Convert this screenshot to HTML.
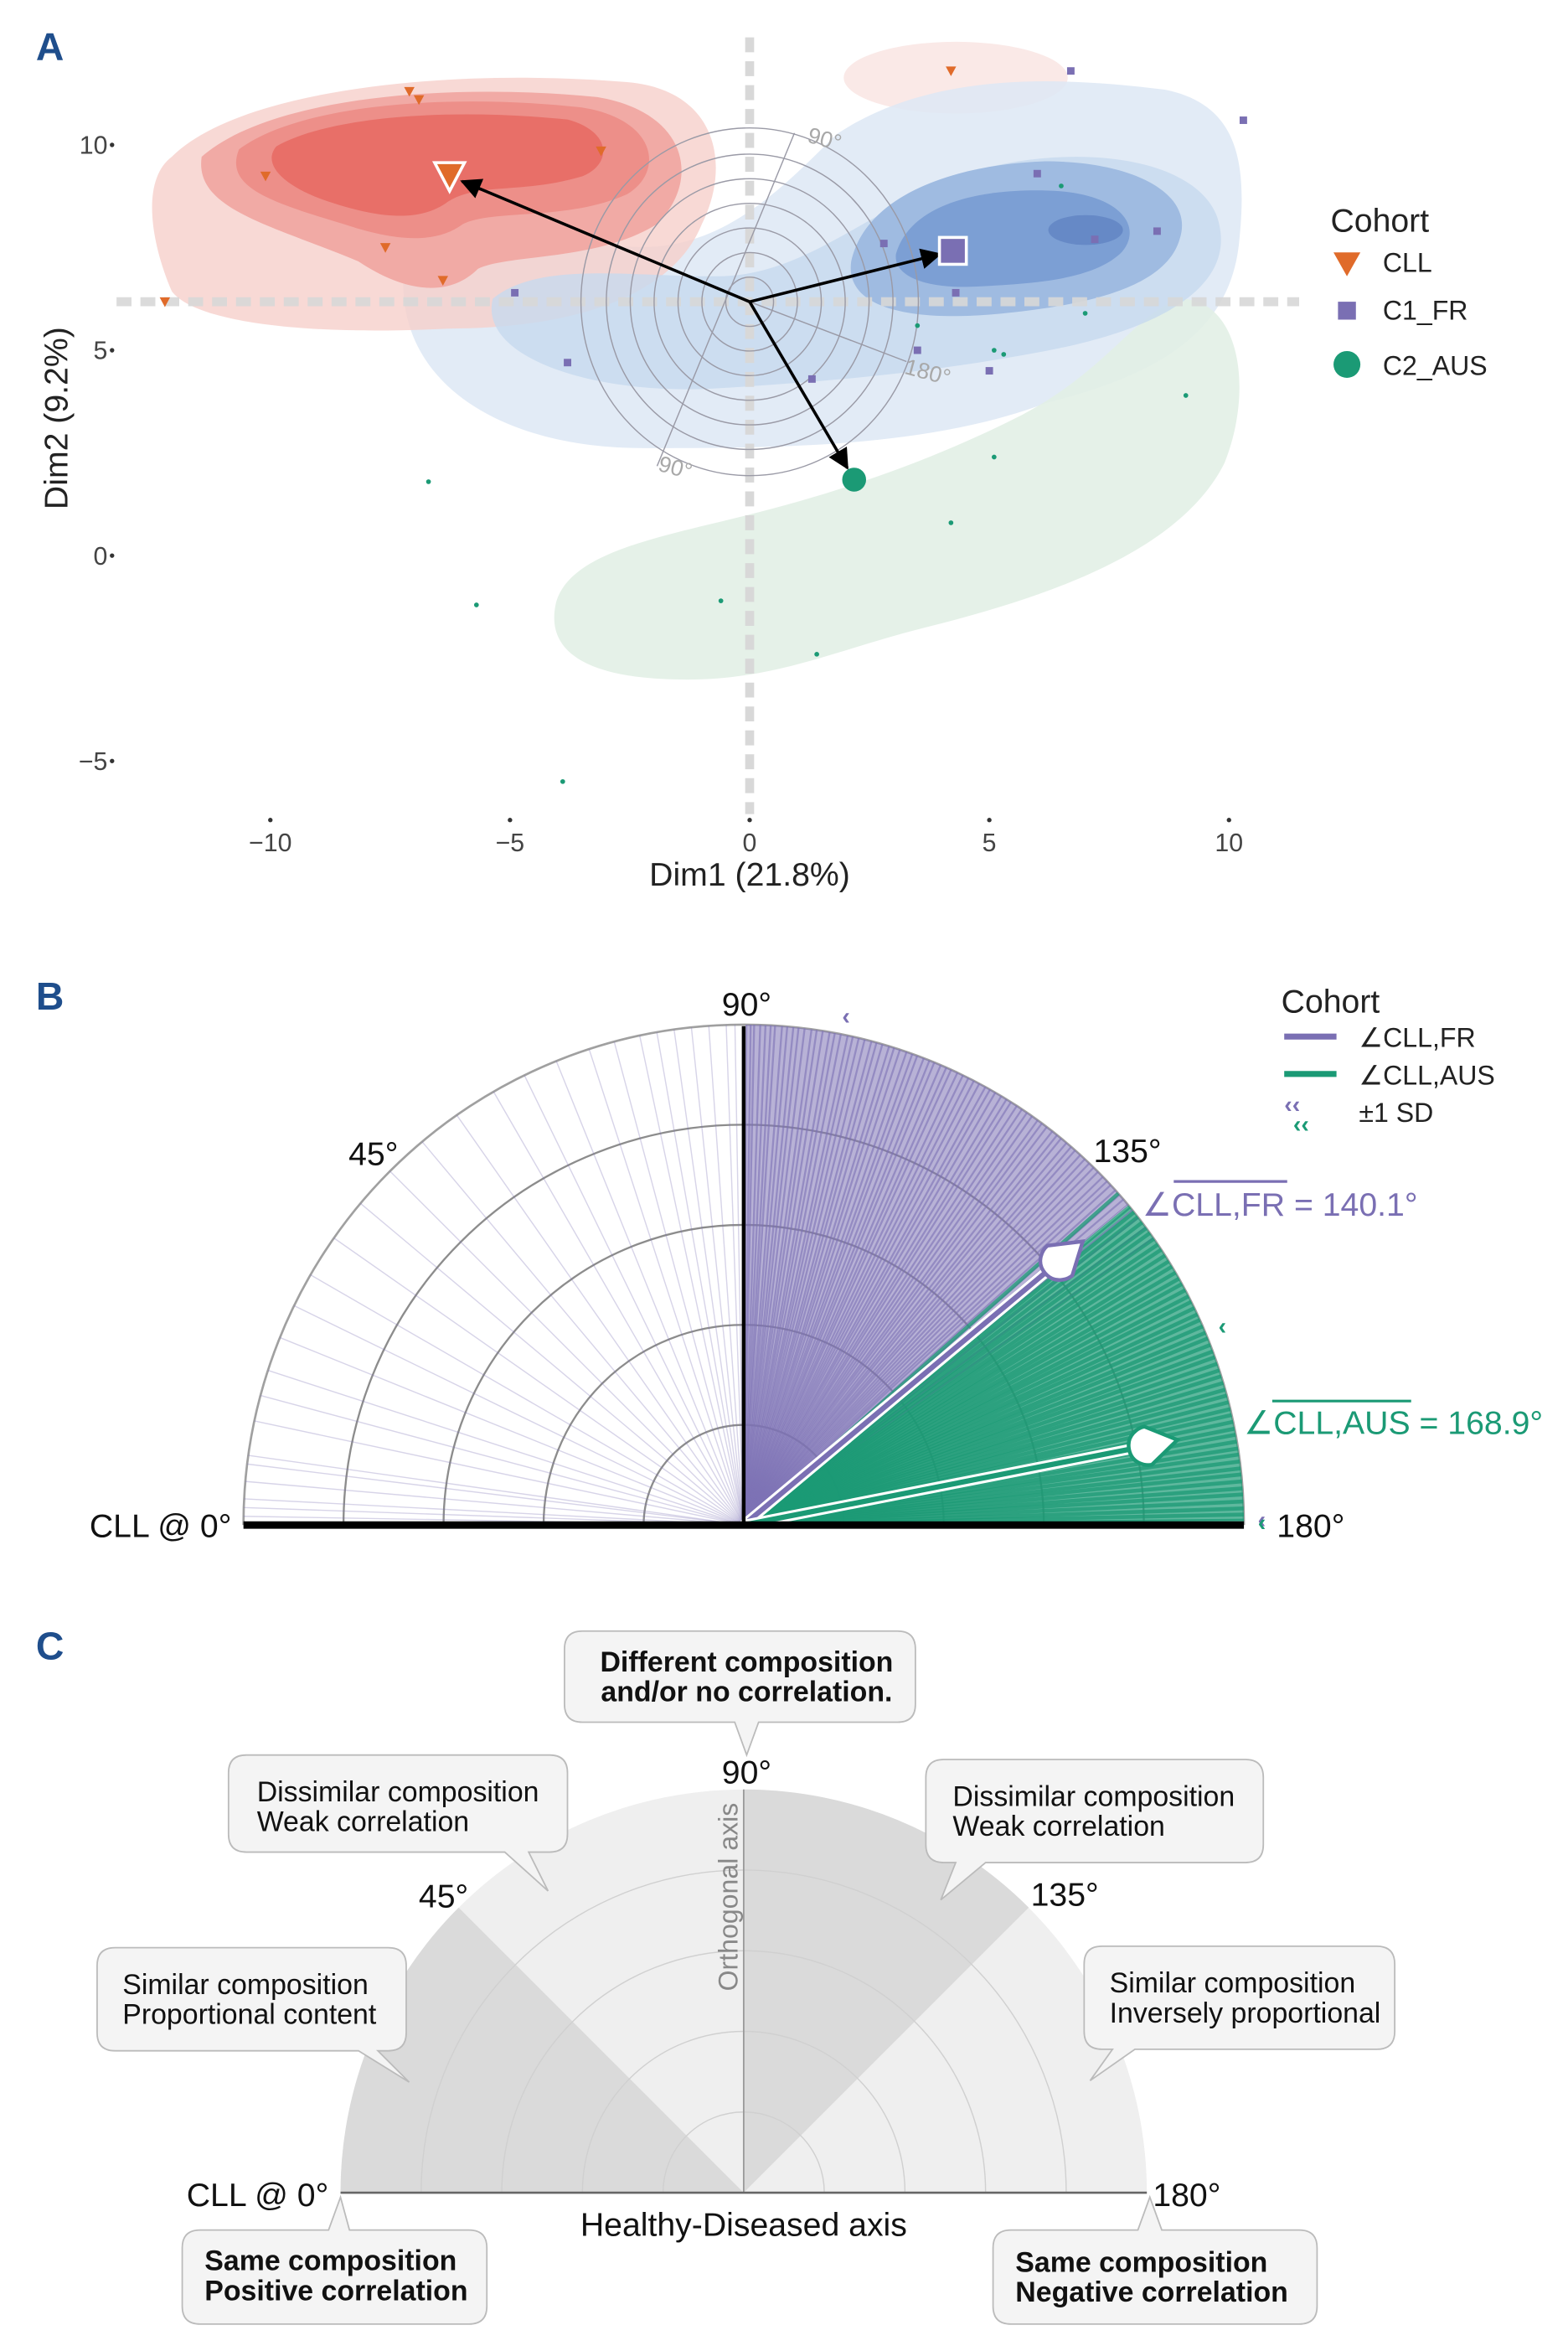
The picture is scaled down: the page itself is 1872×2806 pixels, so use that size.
<!DOCTYPE html>
<html><head><meta charset="utf-8"><style>
html,body{margin:0;padding:0;background:#fff}
svg{display:block;font-family:"Liberation Sans",sans-serif}
</style></head><body>
<svg id="fig" width="1872" height="2806" viewBox="0 0 1050 1574" xmlns="http://www.w3.org/2000/svg">
<!-- PANEL A -->
<g id="panelA">
<text x="24" y="40" font-size="26" font-weight="bold" fill="#1f4e8c">A</text>
<g>
<ellipse cx="640" cy="52" rx="75" ry="24" fill="#f9e4e1" opacity="0.8"/>
<path d="M270,190 C290,160 360,160 420,165 C480,170 520,130 560,90 C620,50 700,50 780,60 C830,70 835,110 830,160 C825,220 780,250 700,270 C620,300 520,300 430,300 C340,300 270,260 270,190Z" fill="#dde8f5" opacity="0.85"/>
<path d="M372,405 C380,370 440,360 500,345 C560,330 620,310 680,280 C740,250 760,210 790,200 C830,200 840,260 820,310 C790,370 700,400 620,420 C560,435 520,455 460,455 C400,455 365,440 372,405Z" fill="#e2f0e5" opacity="0.9"/>
<path d="M115,105 C160,60 300,45 420,55 C480,60 490,110 470,150 C450,200 380,220 300,220 C200,225 130,215 115,195 C100,160 95,120 115,105Z" fill="#f6cfcb" opacity="0.8"/>
<path d="M330,200 C360,175 420,185 480,185 C540,185 580,140 650,115 C720,95 800,105 815,145 C830,190 780,220 700,235 C620,250 560,255 480,260 C400,265 320,240 330,200Z" fill="#c7d9ef" opacity="0.8"/>
<path d="M135,105 C180,65 300,55 400,65 C460,75 470,120 440,150 C400,175 340,170 320,180 C300,200 270,195 240,175 C180,150 130,140 135,105Z" fill="#f1aaa5"/>
<path d="M160,100 C200,70 300,62 390,72 C440,80 445,115 420,130 C380,148 330,140 310,150 C290,165 260,160 230,150 C180,135 150,125 160,100Z" fill="#ed8f89"/>
<path d="M185,98 C220,78 300,72 380,80 C410,88 410,110 390,118 C350,130 320,122 300,135 C280,150 250,145 220,135 C190,125 175,110 185,98Z" fill="#e86f68"/>
<path d="M570,175 C580,130 640,110 700,108 C760,108 800,130 790,160 C780,195 720,205 670,210 C620,215 565,210 570,175Z" fill="#9fbbe1"/>
<path d="M600,170 C610,135 660,125 710,128 C755,132 765,155 750,170 C730,188 690,190 650,192 C620,193 598,185 600,170Z" fill="#7c9fd4"/>
<ellipse cx="727" cy="154" rx="25" ry="10" fill="#6689c6"/>
</g>
<g>
<line x1="502" y1="25" x2="502" y2="545" stroke="#d8d8d8" stroke-width="6" stroke-dasharray="10,6"/>
<line x1="78" y1="202" x2="870" y2="202" stroke="#d8d8d8" stroke-width="6" stroke-dasharray="10,6" opacity="0.9"/>
</g>
<g id="polarGridA" fill="none" stroke="#9a9aa6" stroke-width="0.8"></g>
<text x="540" y="95" font-size="15" fill="#a8a8a8" transform="rotate(15 540 95)">90°</text>
<text x="605" y="250" font-size="15" fill="#a8a8a8" transform="rotate(15 605 250)">180°</text>
<text x="440" y="315" font-size="15" fill="#a8a8a8" transform="rotate(15 440 315)">90°</text>
<g id="pointsA"></g>
<g id="centroidsA"></g>
<g font-size="17" fill="#444" text-anchor="middle">
<g id="xticksA"></g>
<text x="502" y="593" font-size="22" fill="#222">Dim1 (21.8%)</text>
</g>
<g font-size="17" fill="#444" text-anchor="end">
<g id="yticksA"></g>
<text x="0" y="0" font-size="22" fill="#222" text-anchor="middle" transform="translate(45 280) rotate(-90)">Dim2 (9.2%)</text>
</g>
<g font-size="18" fill="#222">
<text x="891" y="155" font-size="22">Cohort</text>
<path d="M893,169 L911,169 L902,185Z" fill="#e06b2a"/>
<text x="926" y="182">CLL</text>
<rect x="896" y="202" width="12" height="12" fill="#7a6fb3"/>
<text x="926" y="214">C1_FR</text>
<circle cx="902" cy="244" r="9" fill="#1b9a75"/>
<text x="926" y="251">C2_AUS</text>
</g>
</g>

<!-- PANEL B -->
<g id="panelB">
<text x="24" y="676" font-size="26" font-weight="bold" fill="#1f4e8c">B</text>
<g id="ringsB" fill="none"></g>
<g id="raysB"></g>
<g id="meansB"></g>
<line x1="498" y1="687" x2="498" y2="1021" stroke="#000" stroke-width="2.5"/>
<line x1="163" y1="1021" x2="833" y2="1021" stroke="#000" stroke-width="5"/>
<g font-size="22" fill="#111">
<text x="500" y="680" text-anchor="middle">90°</text>
<text x="250" y="780" text-anchor="middle">45°</text>
<text x="755" y="778" text-anchor="middle">135°</text>
<text x="155" y="1029" text-anchor="end">CLL @ 0°</text>
<text x="855" y="1029">180°</text>
</g>
<g font-size="22">
<text x="765" y="814" fill="#7a6fb3">∠CLL,FR = 140.1°</text>
<line x1="786" y1="791" x2="862" y2="791" stroke="#7a6fb3" stroke-width="1.8"/>
<text x="833" y="960" fill="#1b9a75">∠CLL,AUS = 168.9°</text>
<line x1="852" y1="938" x2="945" y2="938" stroke="#1b9a75" stroke-width="1.8"/>
</g>
<g font-size="18" fill="#222">
<text x="858" y="678" font-size="22">Cohort</text>
<line x1="860" y1="694" x2="895" y2="694" stroke="#7a6fb3" stroke-width="4"/>
<text x="910" y="701">∠CLL,FR</text>
<line x1="860" y1="719" x2="895" y2="719" stroke="#1b9a75" stroke-width="4"/>
<text x="910" y="726">∠CLL,AUS</text>
<text x="860" y="745" font-size="16" fill="#7a6fb3" font-weight="bold">‹‹</text>
<text x="866" y="758" font-size="16" fill="#1b9a75" font-weight="bold">‹‹</text>
<text x="910" y="751">±1 SD</text>
</g>
</g>

<!-- PANEL C -->
<g id="panelC">
<text x="24" y="1111" font-size="26" font-weight="bold" fill="#1f4e8c">C</text>
<path d="M228,1468 A270,270 0 0 1 768,1468 Z" fill="#efefef"/>
<path d="M498,1468 L228,1468 A270,270 0 0 1 307.1,1277.1 Z" fill="#dadada"/>
<path d="M498,1468 L498,1198 A270,270 0 0 1 688.9,1277.1 Z" fill="#dadada"/>
<g fill="none" stroke="#d0d0d0" stroke-width="0.8">
<path d="M282,1468 A216,216 0 0 1 714,1468"/><path d="M336,1468 A162,162 0 0 1 660,1468"/><path d="M390,1468 A108,108 0 0 1 606,1468"/><path d="M444,1468 A54,54 0 0 1 552,1468"/>
</g>
<line x1="498" y1="1198" x2="498" y2="1468" stroke="#999" stroke-width="1"/>
<line x1="228" y1="1468" x2="768" y2="1468" stroke="#666" stroke-width="1.5"/>
<text x="0" y="0" font-size="18" fill="#888" text-anchor="middle" transform="translate(494 1270) rotate(-90)">Orthogonal axis</text>
<g font-size="22" fill="#111">
<text x="498" y="1497" text-anchor="middle">Healthy-Diseased axis</text>
<text x="500" y="1194" text-anchor="middle">90°</text>
<text x="297" y="1277" text-anchor="middle">45°</text>
<text x="713" y="1276" text-anchor="middle">135°</text>
<text x="220" y="1477" text-anchor="end">CLL @ 0°</text>
<text x="772" y="1477">180°</text>
</g>
<g fill="#f4f4f4" stroke="#bbb" stroke-width="1" font-size="19">
<g>
<path d="M390,1092 H601 Q613,1092 613,1104 V1141 Q613,1153 601,1153 H508 L500,1175 L492,1153 H390 Q378,1153 378,1141 V1104 Q378,1092 390,1092Z"/>
<text x="500" y="1119" text-anchor="middle" font-weight="bold" fill="#111" stroke="none">Different composition</text>
<text x="500" y="1139" text-anchor="middle" font-weight="bold" fill="#111" stroke="none">and/or no correlation.</text>
</g>
<g>
<path d="M165,1175 H368 Q380,1175 380,1187 V1228 Q380,1240 368,1240 H354 L367,1266 L338,1240 H165 Q153,1240 153,1228 V1187 Q153,1175 165,1175Z"/>
<text x="172" y="1206" fill="#111" stroke="none">Dissimilar composition</text>
<text x="172" y="1226" fill="#111" stroke="none">Weak correlation</text>
</g>
<g>
<path d="M632,1178 H834 Q846,1178 846,1190 V1235 Q846,1247 834,1247 H660 L630,1272 L640,1247 H632 Q620,1247 620,1235 V1190 Q620,1178 632,1178Z"/>
<text x="638" y="1209" fill="#111" stroke="none">Dissimilar composition</text>
<text x="638" y="1229" fill="#111" stroke="none">Weak correlation</text>
</g>
<g>
<path d="M77,1304 H260 Q272,1304 272,1316 V1361 Q272,1373 260,1373 H253 L274,1394 L240,1373 H77 Q65,1373 65,1361 V1316 Q65,1304 77,1304Z"/>
<text x="82" y="1335" fill="#111" stroke="none">Similar composition</text>
<text x="82" y="1355" fill="#111" stroke="none">Proportional content</text>
</g>
<g>
<path d="M738,1303 H922 Q934,1303 934,1315 V1360 Q934,1372 922,1372 H760 L730,1393 L745,1372 H738 Q726,1372 726,1360 V1315 Q726,1303 738,1303Z"/>
<text x="743" y="1334" fill="#111" stroke="none">Similar composition</text>
<text x="743" y="1354" fill="#111" stroke="none">Inversely proportional</text>
</g>
<g>
<path d="M134,1493 H220 L228,1471 L234,1493 H314 Q326,1493 326,1505 V1544 Q326,1556 314,1556 H134 Q122,1556 122,1544 V1505 Q122,1493 134,1493Z"/>
<text x="137" y="1520" font-weight="bold" fill="#111" stroke="none">Same composition</text>
<text x="137" y="1540" font-weight="bold" fill="#111" stroke="none">Positive correlation</text>
</g>
<g>
<path d="M677,1493 H762 L770,1471 L778,1493 H870 Q882,1493 882,1505 V1544 Q882,1556 870,1556 H677 Q665,1556 665,1544 V1505 Q665,1493 677,1493Z"/>
<text x="680" y="1521" font-weight="bold" fill="#111" stroke="none">Same composition</text>
<text x="680" y="1541" font-weight="bold" fill="#111" stroke="none">Negative correlation</text>
</g>
</g>
</g>
</svg>
<script>
// ---------- Panel A data ----------
const xTicks = [-10, -5, 0, 5, 10];
const yTicks = [10, 5, 0, -5];
const cllX = [-7.1, -6.9, -10.1, -3.1, -7.6, -6.4, -12.2, 4.2];
const cllY = [11.3, 11.1, 9.24, 9.85, 7.5, 6.7, 6.18, 11.8];
const frX = [6.7, 10.3, 6.0, 2.8, 8.5, 7.2, -4.9, 4.3, -3.8, 1.3, 3.5, 5.0];
const frY = [11.8, 10.6, 9.3, 7.6, 7.9, 7.7, 6.4, 6.4, 4.7, 4.3, 5.0, 4.5];
const ausX = [6.5, 7.0, 5.1, 5.3, 9.1, 5.1, 4.2, -6.7, -5.7, -0.6, 1.4, -3.9, 3.5];
const ausY = [9.0, 5.9, 5.0, 4.9, 3.9, 2.4, 0.8, 1.8, -1.2, -1.1, -2.4, -5.5, 5.6];
const centroidX = [-6.26, 4.24, 2.18];
const centroidY = [9.24, 7.42, 1.85];
const originX = 0, originY = 6.18;
// ---------- Panel B data ----------
const frAngles = [1,2,3,5,7,8,12,15,18,22,26,30,35,40,45,50,55,60,64,68,72,75,78,80,82,84,86,88,89,
90.3,90.8,91.2,91.9,92.5,93.1,93.6,94.4,95,95.7,96.3,97,97.8,98.4,99.1,99.9,100.5,101.2,102,102.6,103.3,104,104.8,105.4,106.1,106.9,107.5,108.2,109,109.7,110.3,111.1,111.8,112.4,113.2,113.9,114.5,115.3,116,116.7,117.4,118.1,118.9,119.5,120.2,121,121.7,122.3,123.1,123.8,124.5,125.2,126,126.6,127.3,128.1,128.8,129.4,130.2,130.9,131.5,132.3,133,133.7,134.4,135.1,135.9,136.6,137.2,138,138.7,139.4,140.2,141,142.1,143.5,145];
const ausAngles = [138.5,140.5,141.3,142,142.8,143.6,144.3,145.1,145.9,146.6,147.4,148.2,148.9,149.7,150.5,151.2,152,152.8,153.5,154.3,155.1,155.8,156.6,157.4,158.1,158.9,159.7,160.4,161.2,162,162.7,163.5,164.3,165,165.8,166.6,167.3,168.1,168.9,169.6,170.4,171.2,171.9,172.7,173.5,174.2,175,175.8,176.5,177.3,178.1,178.8,179.5];
const meanAngles = [140.1, 168.9];
const sdAngles = [101.4, 179.5, 157.5, 179.8];

const NS = "http://www.w3.org/2000/svg";
function mk(tag, attrs, parent){const e=document.createElementNS(NS,tag);for(const k in attrs)e.setAttribute(k,attrs[k]);parent.appendChild(e);return e;}
const sx = v => 502 + v*32.1;
const sy = v => 372 - v*27.5;

const xt = document.getElementById('xticksA');
xTicks.forEach(v=>{
  const t = mk('text',{x:sx(v),y:570},xt); t.textContent = v<0?'−'+Math.abs(v):v;
  
  
  mk('circle',{cx:sx(v),cy:549,r:1.5,fill:'#333'},xt);
});
const yt = document.getElementById('yticksA');
yTicks.forEach(v=>{
  const t = mk('text',{x:72,y:sy(v)+6},yt); t.textContent = v<0?'−'+Math.abs(v):v;
  
  
  mk('circle',{cx:75,cy:sy(v),r:1.5,fill:'#333'},yt);
});
const pg = document.getElementById('polarGridA');
const ocx = sx(originX), ocy = sy(originY);
[16,32,48,64,80,96,113].forEach(r=>{ mk('ellipse',{cx:ocx,cy:ocy,rx:r,ry:r*1.03},pg); });
mk('line',{x1:ocx+30,y1:ocy-113,x2:ocx-62,y2:ocy+110},pg);
mk('line',{x1:ocx,y1:ocy,x2:ocx+105,y2:ocy+40},pg);
const pa = document.getElementById('pointsA');
cllX.forEach((x,i)=>{const X=sx(x),Y=sy(cllY[i]);
  const p=mk('path',{d:`M${X-3.5},${Y-3} L${X+3.5},${Y-3} L${X},${Y+3.5}Z`,fill:'#e06b2a'},pa);
  
  });
frX.forEach((x,i)=>{
  const p=mk('rect',{x:sx(x)-2.5,y:sy(frY[i])-2.5,width:5,height:5,fill:'#7a6fb3'},pa);
  
  });
ausX.forEach((x,i)=>{
  const p=mk('circle',{cx:sx(x),cy:sy(ausY[i]),r:1.6,fill:'#1b9a75'},pa);
  
  });
const ca = document.getElementById('centroidsA');
const defs = mk('defs',{},document.getElementById('fig'));
const mar = mk('marker',{id:'arr',viewBox:'0 0 10 10',refX:'9',refY:'5',markerWidth:'7',markerHeight:'7',orient:'auto-start-reverse'},defs);
mk('path',{d:'M0,0 L10,5 L0,10 Z',fill:'#000'},mar);
centroidX.forEach((x,i)=>{
  const X=sx(x),Y=sy(centroidY[i]);
  const dx=X-ocx,dy=Y-ocy,L=Math.hypot(dx,dy),k=(L-9)/L;
  const a=mk('line',{x1:ocx,y1:ocy,x2:ocx+dx*k,y2:ocy+dy*k,stroke:'#000','stroke-width':2,'marker-end':'url(#arr)'},ca);
  
  
});
let c;
c=mk('path',{d:`M${sx(centroidX[0])-10},${sy(centroidY[0])-9} L${sx(centroidX[0])+10},${sy(centroidY[0])-9} L${sx(centroidX[0])},${sy(centroidY[0])+10}Z`,fill:'#e06b2a',stroke:'#fff','stroke-width':2},ca);


c=mk('rect',{x:sx(centroidX[1])-9,y:sy(centroidY[1])-9,width:18,height:18,fill:'#7a6fb3',stroke:'#fff','stroke-width':2},ca);


c=mk('circle',{cx:sx(centroidX[2]),cy:sy(centroidY[2]),r:8,fill:'#1b9a75'},ca);



// ---------- Panel B ----------
const bcx=498,bcy=1021,R=335;
const px = (a,r)=>bcx - r*Math.cos(a*Math.PI/180);
const py = (a,r)=>bcy - r*Math.sin(a*Math.PI/180);
const rg=document.getElementById('ringsB');
[67,134,201,268,335].forEach((r,i)=>{
  mk('path',{d:`M${bcx-r},${bcy} A${r},${r} 0 0 1 ${bcx+r},${bcy}`,stroke:i===4?'#a0a0a0':'#8c8c8c','stroke-width':i===4?1.5:1.3},rg);
});
const rb=document.getElementById('raysB');
const wedge=(a1,a2,col,op)=>mk('path',{d:`M${bcx},${bcy} L${px(a1,R)},${py(a1,R)} A${R},${R} 0 0 1 ${px(a2,R)},${py(a2,R)} Z`,fill:col,opacity:op},rb);
wedge(frAngles[29],frAngles[frAngles.length-5],'#7d72b5',0.55);
wedge(ausAngles[0]+2,ausAngles[ausAngles.length-1],'#1b9a75',0.7);
frAngles.forEach(a=>{
  const l=mk('line',{x1:bcx,y1:bcy,x2:px(a,R),y2:py(a,R),stroke:'#7d72b5','stroke-width':a<90?0.8:1.3,opacity:a<90?0.3:0.6},rb);
  
  
});
ausAngles.forEach(a=>{
  const l=mk('line',{x1:bcx,y1:bcy,x2:px(a,R),y2:py(a,R),stroke:'#1b9a75','stroke-width':2.6,opacity:0.75},rb);
  
  
});
const mb=document.getElementById('meansB');
const cols=['#7a6fb3','#1b9a75'];
meanAngles.forEach((a,i)=>{
  const r=R*0.8;
  mk('line',{x1:bcx,y1:bcy,x2:px(a,r),y2:py(a,r),stroke:'#fff','stroke-width':7},mb);
  const l2=mk('line',{x1:bcx,y1:bcy,x2:px(a,r),y2:py(a,r),stroke:cols[i],'stroke-width':3.5},mb);
  
  
  const X=px(a,r+8),Y=py(a,r+8);
  // teardrop: bulb at centre, tip pointing outward along the ray
  const d=mk('path',{d:'M0,-13 C10,-13 13,-4 13,0 L0,20 L-13,0 C-13,-4 -10,-13 0,-13Z',fill:'#fff',stroke:cols[i],'stroke-width':2.5,transform:`translate(${X},${Y}) rotate(${a+90})`},mb);
  
  
});
sdAngles.forEach((a,i)=>{
  const t=mk('text',{x:px(a,R+12),y:py(a,R+12)+5,'font-size':16,'font-weight':'bold',fill:i<2?'#7a6fb3':'#1b9a75','text-anchor':'middle'},mb);
  t.textContent='‹';
  
  
});
</script>
</body></html>
